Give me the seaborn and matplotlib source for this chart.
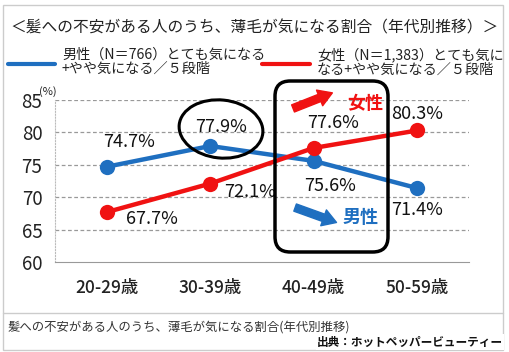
import pandas as pd
import matplotlib.pyplot as plt
import seaborn as sns
from matplotlib.patches import FancyBboxPatch, Ellipse, Rectangle
from matplotlib.lines import Line2D
from matplotlib.transforms import IdentityTransform

# データ
ages = ['20-29歳', '30-39歳', '40-49歳', '50-59歳']
male = [74.7, 77.9, 75.6, 71.4]
female = [67.7, 72.1, 77.6, 80.3]
series = ['男性', '女性']
yticks = [60, 65, 70, 75, 80, 85]

df = pd.DataFrame({
    'age': ages * 2,
    'value': male + female,
    'sex': ['男性'] * 4 + ['女性'] * 4,
})

sns.set_style('white')
plt.rcParams['font.family'] = ['Noto Sans CJK JP', 'DejaVu Sans']

W, H = 509, 352
fig = plt.figure(figsize=(W / 100, H / 100), dpi=100)
ax = fig.add_axes([55 / W, 1 - 262 / H, (469 - 55) / W, (262 - 100) / H])

blue = '#1f6fc0'
red = '#f01212'
sns.lineplot(data=df, x='age', y='value', hue='sex', palette={'男性': blue, '女性': red},
             marker='o', markersize=11, markeredgewidth=0, linewidth=3.2,
             legend=False, ax=ax, sort=False)

ax.set_xlim(-0.5, 3.5)
ax.set_ylim(60, 85)
ax.set_yticks(yticks)
ax.set_yticklabels([str(v) for v in yticks], fontsize=13.5, color='#222222')
ax.tick_params(axis='y', length=0, pad=9)
ax.set_xticks([-0.5, 0.5, 1.5, 2.5, 3.5])
ax.set_xticklabels([])
ax.set_xticks(range(4), minor=True)
ax.set_xticklabels(ages, minor=True, fontsize=12.5, color='#222222', fontweight='medium')
ax.tick_params(axis='x', which='major', length=5, color='#999999', direction='out')
ax.tick_params(axis='x', which='minor', length=0, pad=12)
ax.set_xlabel('')
ax.set_ylabel('')
for v in yticks[1:]:
    ax.axhline(v, color='#999999', linestyle=(0, (3, 2)), linewidth=0.9, zorder=0)
ax.spines['top'].set_visible(False)
ax.spines['right'].set_visible(False)
ax.spines['left'].set_color('#bbbbbb')
ax.spines['left'].set_linestyle(':')
ax.spines['bottom'].set_color('#999999')

# データラベル
offsets_m = [(22, 25), (11, 19), (16, -25), (0, -22)]
offsets_f = [(45, -7), (40, -8), (19, 25), (0, 16)]
for i, (vm, vf) in enumerate(zip(male, female)):
    ax.annotate(f'{vm}%', (i, vm), xytext=offsets_m[i], textcoords='offset pixels',
                ha='center', va='center', fontsize=13, color='#111111')
    ax.annotate(f'{vf}%', (i, vf), xytext=offsets_f[i], textcoords='offset pixels',
                ha='center', va='center', fontsize=13, color='#111111')

ax.text(-0.57, 86.3, '(%)', fontsize=8, color='#222222', ha='center', va='center')

# 強調の枠
fig.add_artist(FancyBboxPatch((275 / W, 1 - 252 / H), 113 / W, 171 / H,
                              boxstyle='round,pad=0,rounding_size=0.03',
                              transform=fig.transFigure, fill=False, edgecolor='black',
                              linewidth=2.5, mutation_aspect=W / H))
fig.add_artist(Ellipse((221, H - 129), 84, 58, angle=-6, transform=IdentityTransform(),
                       fill=False, edgecolor='black', linewidth=2.2))
ax.annotate('', xy=(2.18, 86.1), xytext=(1.80, 83.7),
            arrowprops=dict(arrowstyle='simple,head_width=1.1,head_length=0.9,tail_width=0.5',
                            color=red, mutation_scale=11, shrinkA=0, shrinkB=0),
            annotation_clip=False)
ax.annotate('', xy=(2.22, 66.1), xytext=(1.82, 68.4),
            arrowprops=dict(arrowstyle='simple,head_width=1.1,head_length=0.9,tail_width=0.5',
                            color=blue, mutation_scale=11, shrinkA=0, shrinkB=0),
            annotation_clip=False)
ax.text(2.50, 84.5, '女性', color=red, fontsize=13, fontweight='bold', ha='center', va='center')
ax.text(2.45, 66.8, '男性', color=blue, fontsize=13, fontweight='bold', ha='center', va='center')

# タイトルと凡例
fig.text(254 / W, 1 - 28 / H, '＜髪への不安がある人のうち、薄毛が気になる割合（年代別推移）＞',
         ha='center', va='center', fontsize=11.3, color='#222222')
fig.add_artist(Line2D([8 / W, 55 / W], [1 - 64 / H] * 2, color=blue, linewidth=3))
fig.add_artist(Line2D([262 / W, 310 / W], [1 - 64 / H] * 2, color=red, linewidth=3))
fig.text(62 / W, 1 - 62 / H, '男性（N＝766）とても気になる\n+やや気になる／５段階',
         ha='left', va='center', fontsize=10.2, color='#222222', linespacing=1.0)
fig.text(317 / W, 1 - 62 / H, '女性（N＝1,383）とても気に\nなる+やや気になる／５段階',
         ha='left', va='center', fontsize=10.2, color='#222222', linespacing=1.0)

# 外枠とキャプション
fig.add_artist(Rectangle((3 / W, 1 - 350 / H), 500 / W, 345 / H, transform=fig.transFigure,
                         fill=False, edgecolor='#cccccc', linewidth=1))
fig.add_artist(Line2D([3 / W, 503 / W], [1 - 313 / H] * 2, color='#cccccc', linewidth=1))
fig.text(8 / W, 1 - 327 / H, '髪への不安がある人のうち、薄毛が気になる割合(年代別推移)',
         ha='left', va='center', fontsize=8.9, color='#333333')
fig.text(503 / W, 1 - 342 / H, '出典：ホットペッパービューティー', ha='right', va='center',
         fontsize=8.4, fontweight='bold', style='italic', color='#111111',
         bbox=dict(facecolor='white', edgecolor='none', pad=1))

fig.savefig('out.png', dpi=100)
